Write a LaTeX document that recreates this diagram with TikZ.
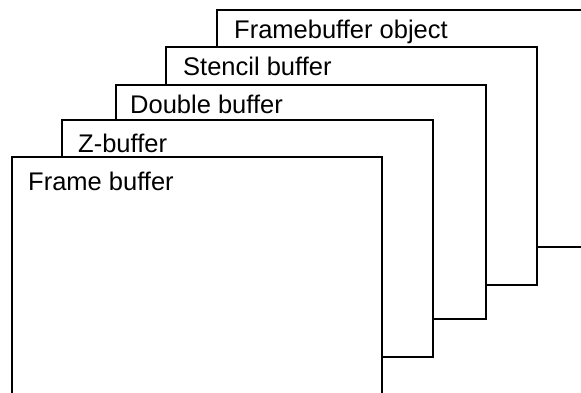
\documentclass[tikz,border=0pt]{standalone}
\usepackage{fontspec}
\setmainfont{Liberation Sans}
\begin{document}
\begin{tikzpicture}[x=1pt,y=-1pt,
  bufbox/.style={draw=black,line width=1.9pt,fill=white},
  buflabel/.style={anchor=base west,inner sep=0pt,font=\fontsize{25.5}{30}\selectfont}]
\useasboundingbox (0,0) rectangle (581,392);
\clip (0,0) rectangle (581,392);
\path[bufbox] (217,10) rectangle (600,247);
\node[buflabel] (fbo) at (234,38) {Framebuffer object};
\path[bufbox] (166,47) rectangle (537,285);
\node[buflabel] (stencil) at (183,75) {Stencil buffer};
\path[bufbox] (116,85) rectangle (486,319);
\node[buflabel] (double) at (130,113) {Double buffer};
\path[bufbox] (62,120) rectangle (433,357);
\node[buflabel] (zbuf) at (78,152) {Z-buffer};
\path[bufbox] (12,157) rectangle (382,410);
\node[buflabel] (frame) at (28,190) {Frame buffer};
\end{tikzpicture}
\end{document}
